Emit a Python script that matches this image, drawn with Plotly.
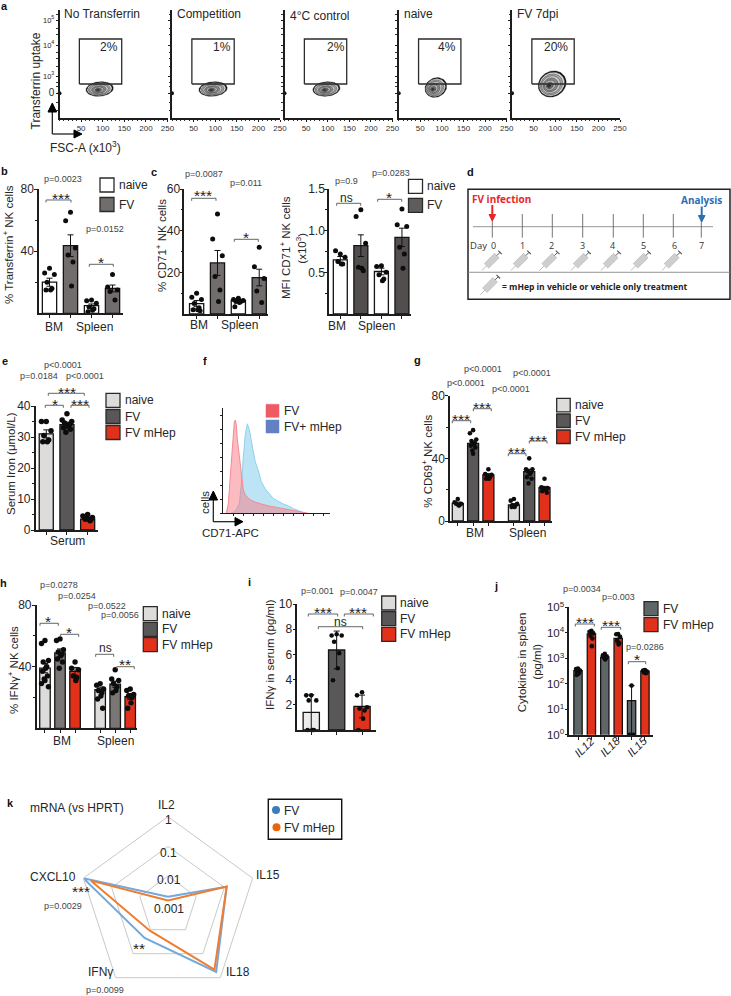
import numpy as np
import plotly.graph_objects as go

W, H = 731, 996
FONT = "Liberation Sans"
WHITE, GREY_B, GREY_D, LIGHT, DARK, RED = "#ffffff", "#716d6c", "#524e4e", "#dddcdb", "#5a5758", "#e2311a"

# ---------- data ----------
flow_titles = ["No Transferrin", "Competition", "4\u00b0C control", "naive", "FV 7dpi"]
flow_pct = ["2%", "1%", "2%", "4%", "20%"]
flow_ticks_x = [50, 100, 150, 200, 250]
flow_ticks_y = [24.7, 42, 73, 98]
flow_ticklabels_y = ['<span style="font-size:10px">0</span>', "10<sup>3</sup>", "10<sup>4</sup>", "10<sup>5</sup>"]
gate_x = [46, 144]
gate_y = [34, 79]
blob_cx = [93, 95, 97, 86, 93]
blob_cy = [29, 29, 29, 30.5, 34]
blob_rx = [13.7, 14.2, 13.6, 11.2, 14.5]
blob_ry = [7.2, 7.2, 7.2, 9.5, 12.5]
blob_tilt = [5, 5, 5, 28, 32]

b_vals = [20, 43.5, 5, 16]
b_err = [2.6, 7, 1, 2.2]
b_dots = [[29, 26, 25, 20, 16, 15, 15], [65, 59.5, 42, 37.5, 33, 17.6], [8.6, 8, 6.5, 4, 3, 2, 1], [25, 17, 15, 14, 8.6]]
c1_vals = [5, 24.5, 6.5, 17.5]
c1_err = [1.5, 6, 0.6, 4]
c1_dots = [[10, 8, 7, 5, 3, 2, 2, 1.5], [48, 36, 28, 18, 11.5, 6], [7.5, 7, 6.5, 6, 6, 5.5, 3.5], [32, 22.7, 17, 11, 5.5]]
c2_vals = [0.65, 0.82, 0.51, 0.92]
c2_err = [0.04, 0.13, 0.04, 0.11]
c2_dots = [[0.72, 0.76, 0.68, 0.63, 0.6, 0.6], [1.25, 1.17, 0.85, 0.56, 0.52, 0.55], [0.58, 0.57, 0.5, 0.47, 0.42, 0.4], [1.26, 1.07, 1.05, 0.8, 0.72, 0.55]]
e_vals = [31, 34, 3.5]
e_err = [1.3, 0.8, 0.3]
e_dots = [[35, 35, 32, 30.5, 29, 28.5, 28.5], [37.5, 35.5, 35, 34.5, 34, 33.5, 33, 32.5, 31.5], [5, 4.5, 4, 3.5, 3, 3.5, 4, 3.5]]
f_fv_x = [3, 5, 7, 9, 10, 11, 12, 13, 14, 16, 18, 20, 22, 25, 28, 32, 38, 45, 55, 65, 75, 85]
f_fv_y = [0, 10, 40, 75, 90, 98, 100, 95, 80, 60, 40, 25, 20, 16, 14, 12, 10, 8, 6, 4, 2, 0]
f_hep_x = [8, 12, 16, 18, 20, 22, 24, 26, 28, 30, 32, 35, 38, 42, 46, 50, 55, 60, 65, 70, 75, 82]
f_hep_y = [0, 2, 10, 30, 60, 85, 96, 90, 78, 64, 55, 46, 34, 26, 21, 16, 13, 10, 8, 5, 3, 0]
g_vals = [11.3, 49.6, 29.4, 10.2, 31.5, 21.3]
g_err = [0.8, 1.5, 0.8, 0.8, 1.5, 0.8]
g_dots = [[14, 12, 11, 11, 10, 10], [58, 56, 52, 51, 50, 49, 48, 47, 45, 43], [33, 30, 29.5, 29, 28, 27, 27], [14, 13, 11, 10, 10, 9, 9], [40, 33, 33, 32, 31, 30, 28, 27, 24], [27, 21.5, 21, 21, 20, 20, 19, 18]]
h_vals = [39, 49, 37, 25, 28.6, 20.6]
h_err = [3, 2.5, 2.5, 1.8, 2, 2]
h_dots = [[57, 55, 44, 43, 40, 39, 37, 34, 32, 31, 29, 27], [58, 57, 51, 49.5, 48, 47, 45, 43, 39], [43, 39, 38, 34, 33, 31], [29, 28, 25.5, 24.5, 23, 21, 19, 13], [38, 32, 31, 29, 27, 24.5, 23], [25.5, 24.5, 22, 21, 20, 16.5, 13]]
i_vals = [1.4, 6.35, 1.87]
i_err = [1.4, 1.5, 0.9]
i_dots = [[2.75, 2.75, 2.35, 2.35, 0, 0, 0], [7.6, 7.5, 7.5, 7.0, 6.1, 4.9, 3.95], [3, 2.75, 1.8, 1.7, 1.55, 0.9, 0]]
j_vals = [330, 9000, 1100, 6000, 22, 316]
j_err = [40, 2500, 150, 2000, 63, 30]
j_dots = [[400, 380, 330, 300, 280, 250, 220], [12000, 11000, 9500, 8000, 6000, 3000], [1500, 1300, 1200, 1100, 1000, 900], [9000, 8800, 7000, 5000, 4000, 3500], [85, 1, 1], [350, 330, 300, 280, 260]]
k_axes = ["IL2", "IL15", "IL18", "IFN\u03b3", "CXCL10"]
k_fv = [0.002, 0.12, 0.58, 0.022, 1.0]
k_hep = [0.0015, 0.12, 0.46, 0.011, 0.54]
days = ["0", "1", "2", "3", "4", "5", "6", "7"]
day_x = [492.3, 522.3, 552.3, 582.7, 613.3, 643.3, 673.3, 701.3]
day_lab_x = [493.3, 522.3, 551.7, 582.7, 612, 643, 674.3, 701.3]
syr_x = [491.7, 520.7, 549.3, 580.7, 610.7, 640.7, 671.7]

# ---------- helpers ----------
PX = lambda x: x / W
PY = lambda y: 1 - y / H
fig = go.Figure()
layout = dict(width=W, height=H, margin=dict(l=0, r=0, t=0, b=0, autoexpand=False), showlegend=False,
              paper_bgcolor="white", plot_bgcolor="white", font=dict(family=FONT, color="#222"))
shapes, annots = [], []
count = [0]

def T(x, y, s, size=12, color="#262626", anchor="center", angle=0, bold=False, font=FONT, italic=False):
    if bold:
        s = f"<b>{s}</b>"
    if italic:
        s = f"<i>{s}</i>"
    annots.append(dict(x=PX(x), y=PY(y), xref="paper", yref="paper", text=s, showarrow=False, xanchor=anchor,
                       yanchor="middle", textangle=angle, borderpad=0, font=dict(size=size, color=color, family=font)))

def L(pts, color="#333", w=1.0, close=False, fill=None):
    d = "M" + " L".join(f"{PX(x):.5f},{PY(y):.5f}" for x, y in pts) + (" Z" if close else "")
    s = dict(type="path", path=d, xref="paper", yref="paper", line=dict(color=color, width=w))
    if fill:
        s["fillcolor"] = fill
    shapes.append(s)

def STAR(x, y, n=3):
    T(x, y + 3.3, "*" * n, size=15.5, color="#222")

def BR(x0, x1, y, tip=2.5):
    L([(x0, y + tip), (x0, y), (x1, y), (x1, y + tip)], color="#555", w=0.9)

def P(x, y, s):
    T(x, y, s, size=9, color="#444")

def LEG(x, ys, labels, colors, size=12, box=14):
    for y, lab, c in zip(ys, labels, colors):
        L([(x, y), (x + box, y), (x + box, y + box), (x, y + box)], color="#2a2a2a", w=1.3, close=True, fill=c)
        T(x + box + 3.5, y + box / 2, lab, size=size, anchor="left")

def axes(l, r, t, b, xr, yr, xticks=None, yticks=None, ylabels=None, ytype="linear", minor=None, lw=1.5, tick=3, tfont=12, standoff=-2, showy=True):
    count[0] += 1
    n = count[0]
    ax = dict(domain=[PX(l), PX(r)], range=xr, anchor=f"y{n}", showgrid=False, zeroline=False, showline=True,
              linecolor="#1d1d1d", linewidth=lw, ticks="outside" if xticks else "", tickvals=xticks or [], ticklen=tick,
              tickwidth=1, tickcolor="#1d1d1d", showticklabels=False, fixedrange=True)
    ay = dict(domain=[PY(b), PY(t)], range=yr, anchor=f"x{n}", showgrid=False, zeroline=False, showline=True, type=ytype,
              linecolor="#1d1d1d", linewidth=lw, ticks="outside", tickvals=yticks, ticklen=tick, tickwidth=1,
              tickcolor="#1d1d1d", tickfont=dict(size=tfont, color="#262626"), fixedrange=True, showticklabels=showy)
    if showy:
        ay["ticktext"] = ylabels or [str(v) for v in (yticks or [])]
        ay["ticklabelstandoff"] = standoff
    if minor:
        ay["minor"] = dict(tickvals=minor, ticklen=2, ticks="outside", tickcolor="#1d1d1d", tickwidth=1)
    layout[f"xaxis{n}"] = ax
    layout[f"yaxis{n}"] = ay
    return f"x{n}", f"y{n}"

def jitter(vals, w):
    pat = [0, -0.55, 0.55, -0.28, 0.28, 0.12, -0.4, 0.4, -0.12]
    return [pat[i % len(pat)] * w for i in range(len(vals))]

def bars(xa, ya, pos, vals, err, dots, colors, bw=0.68, ds=5, jw=0.42, elw=1.0):
    fig.add_trace(go.Bar(x=pos, y=vals, width=bw, xaxis=xa, yaxis=ya, marker=dict(color=colors, line=dict(color="#141414", width=1.3)),
                         error_y=dict(type="data", array=err, color="#111", thickness=elw, width=3)))
    for p, d in zip(pos, dots):
        xs = [p + j for j in jitter(d, jw)]
        fig.add_trace(go.Scatter(x=xs, y=d, mode="markers", xaxis=xa, yaxis=ya, cliponaxis=False,
                                 marker=dict(color="#0c0c0c", size=ds, line=dict(width=0))))

# ---------- panel letters ----------
for s, x, y in [("a", 4, 6), ("b", 4, 171), ("c", 154, 172), ("d", 470, 172), ("e", 5, 361), ("f", 205, 361), ("g", 417, 360),
                ("h", 3, 583), ("i", 249, 582), ("j", 496, 586), ("k", 10, 803)]:
    T(x, y, s, size=11, bold=True, color="#111")

# ---------- a ----------
flow_left = [59.5, 172, 284.5, 398.7, 512]
sx = 108 / 250
for i, l in enumerate(flow_left):
    xa, ya = axes(l, l + 108, 10, 118, [0, 250], [0, 108], xticks=flow_ticks_x, yticks=flow_ticks_y,
                  ylabels=flow_ticklabels_y if i == 0 else None, lw=1.5, tick=2, tfont=7.5, standoff=0, showy=(i == 0))
    layout[f"yaxis{i+1}"]["minor"] = dict(tickvals=[8, 16, 32, 36, 52, 60, 66, 84, 90, 104], ticklen=1.5, ticks="outside", tickcolor="#333")
    layout[f"xaxis{i+1}"]["minor"] = dict(dtick=10, ticklen=1, ticks="outside", tickcolor="#333")
    layout[f"xaxis{i+1}"].update(showticklabels=True, ticktext=[str(v) for v in flow_ticks_x], tickfont=dict(size=8, color="#333"))
    t = np.linspace(0, 2 * np.pi, 60)
    th = np.radians(blob_tilt[i])
    layers = [(1, "#0a0a0a"), (0.92, "#d6d6d6"), (0.8, "#a8a8a8"), (0.68, "#c8c8c8"), (0.54, "#8a8a8a"), (0.4, "#b5b5b5"), (0.26, "#6e6e6e"), (0.13, "#333333")]
    shift = 3.5 if i >= 3 else 2
    for s, col in layers:
        ex = blob_rx[i] * s * np.cos(t)
        ey = blob_ry[i] * s * np.sin(t)
        px = ex * np.cos(th) - ey * np.sin(th) - (1 - s) * shift
        py = ex * np.sin(th) + ey * np.cos(th) - (1 - s) * shift * 0.6
        fig.add_trace(go.Scatter(x=blob_cx[i] + px / sx, y=blob_cy[i] + py, mode="lines", fill="toself", fillcolor=col,
                                 line=dict(color="#222", width=0.4), xaxis=xa, yaxis=ya))
    fig.add_trace(go.Scatter(x=[gate_x[0], gate_x[1], gate_x[1], gate_x[0], gate_x[0]], y=[gate_y[0], gate_y[0], gate_y[1], gate_y[1], gate_y[0]],
                             mode="lines", line=dict(color="#2b2b2b", width=1.3), xaxis=xa, yaxis=ya))
    fig.add_trace(go.Scatter(x=[0], y=[flow_ticks_y[0]], mode="markers", marker=dict(color="#111", size=4), xaxis=xa, yaxis=ya, cliponaxis=False))
    T(l + (3.8 if i != 2 else 4.8), 14 if i != 2 else 16, flow_titles[i], size=12, anchor="left")
    T([109, 221.7, 335.7, 446.7, 555.7][i], 47, flow_pct[i], size=12)
T(35, 81.5, "Transferrin uptake", size=12, angle=-90)
T(85.7, 146.5, "FSC-A (x10<sup>3</sup>)", size=12)
L([(52.3, 134), (52.3, 110)], color="#111", w=1.2)
L([(52.3, 134), (76, 134)], color="#111", w=1.2)
L([(52.3, 103), (48, 112), (56.6, 112)], color="#000", close=True, fill="#000")
L([(82, 134), (74, 130), (74, 138)], color="#000", close=True, fill="#000")

# ---------- b ----------
xa, ya = axes(39, 123, 189, 313.3, [-0.5, 3.5], [0, 80], [0, 1, 2, 3], [40, 80], minor=[20, 60])
bars(xa, ya, [0, 1, 2, 3], b_vals, b_err, b_dots, [WHITE, GREY_B, WHITE, GREY_B])
T(8, 245, "% Transferrin<sup>+</sup> NK cells", size=11.5, angle=-90)
T(54.3, 327, "BM"); T(94.7, 327, "Spleen")
P(62.7, 179, "p=0.0023"); BR(46, 71, 200); STAR(61, 195)
P(105, 229.3, "p=0.0152"); BR(89.3, 113.3, 264.3); STAR(101, 259.3, 1)
LEG(100, [178, 197.5], ["naive", "FV"], [WHITE, GREY_B])

# ---------- c left ----------
xa, ya = axes(184.3, 268, 189, 314, [-0.59, 3.42], [0, 60], [0, 1, 2, 3], [20, 40, 60], minor=[10, 30, 50], standoff=-3)
bars(xa, ya, [0, 1, 2, 3], c1_vals, c1_err, c1_dots, [WHITE, GREY_B, WHITE, GREY_B])
T(161, 246, "% CD71<sup>+</sup> NK cells", size=11.5, angle=-90)
T(199.3, 325, "BM"); T(239.7, 325, "Spleen")
P(204.3, 174, "p=0.0087"); BR(191.7, 216, 198.3); STAR(203.3, 192.3)
P(246, 183, "p=0.011"); BR(234.3, 258.3, 239.3); STAR(246, 234, 1)

# ---------- c right ----------
xa, ya = axes(329, 411, 189, 314, [-0.55, 3.44], [0, 1.5], [0, 1, 2, 3], [0.5, 1.0, 1.5], ylabels=["0.5", "1.0", "1.5"], minor=[0.25, 0.75, 1.25], standoff=-3)
bars(xa, ya, [0, 1, 2, 3], c2_vals, c2_err, c2_dots, [WHITE, GREY_D, WHITE, GREY_D])
T(285, 248, "MFI CD71<sup>+</sup> NK cells", size=11.5, angle=-90)
T(300.7, 248, "(x10<sup>3</sup>)", size=11.5, angle=-90)
T(336.7, 325.7, "BM"); T(376.7, 325.7, "Spleen")
P(346.7, 181, "p=0.9"); T(346.7, 197.5, "ns", size=12); BR(336.7, 360.7, 203.3)
P(391, 173.3, "p=0.0283"); BR(377.7, 401.7, 199.3); STAR(389, 194.3, 1)
LEG(408.5, [179.3, 198.3], ["naive", "FV"], [WHITE, "#5f5c5c"])

# ---------- d ----------
L([(468, 189.3), (730, 189.3), (730, 299.3), (468, 299.3)], color="#222", w=1.5, close=True)
L([(468, 272.3), (730, 272.3)], color="#888", w=0.9)
L([(473, 226.7), (713, 226.7)], color="#aaa", w=1.2)
for x in day_x:
    L([(x, 214), (x, 237.7)], color="#666", w=0.9)
for x, d in zip(day_lab_x, days):
    T(x, 245.7, d, size=9, font="Open Sans", color="#333")
T(479, 245.7, "Day", size=9.5, font="Open Sans", color="#333")
T(501.7, 199, "FV infection", size=10, bold=True, color="#e8262a", font="Open Sans")
T(701.7, 200, "Analysis", size=10, bold=True, color="#2f6db5", font="Open Sans")
L([(492.3, 205), (492.3, 216)], color="#e8262a", w=2)
L([(492.3, 221), (489, 214.5), (495.6, 214.5)], color="#e8262a", close=True, fill="#e8262a")
L([(701.7, 206.5), (701.7, 217)], color="#2f6db5", w=2)
L([(701.7, 222), (698.4, 215.5), (705, 215.5)], color="#2f6db5", close=True, fill="#2f6db5")

def syringe(cx, cy):
    u = np.array([0.707, -0.707]); v = np.array([0.707, 0.707]); c = np.array([cx, cy])
    a = c - 7.3 * u; b = c + 7.3 * u
    L([tuple(a - 6.5 * u), tuple(a)], color="#aaa", w=0.8)
    L([tuple(a - 3.2 * v), tuple(b - 3.2 * v), tuple(b + 3.2 * v), tuple(a + 3.2 * v)], color="#b5b5b5", w=0.6, close=True, fill="#cfcece")
    L([tuple(b), tuple(b + 5 * u)], color="#555", w=1)
    L([tuple(b + 4.5 * u - 2.6 * v), tuple(b + 4.5 * u + 2.6 * v)], color="#555", w=1.1)

for x in syr_x:
    syringe(x, 260.7)
syringe(490, 285)
T(500.7, 286.7, "= mHep in vehicle or vehicle only treatment", size=8.5, bold=True, anchor="left", font="Open Sans", color="#222")

# ---------- e ----------
xa, ya = axes(35.7, 98, 406, 530, [-0.51, 2.5], [0, 40], [0, 1, 2], [0, 10, 20, 30, 40], minor=[5, 15, 25, 35])
bars(xa, ya, [0, 1, 2], e_vals, e_err, e_dots, [LIGHT, DARK, RED], ds=5.5)
T(11, 464, "Serum Iron (\u03bcmol/L)", size=11.5, angle=-90)
T(67, 541, "Serum")
P(62.7, 365, "p&lt;0.0001"); P(39, 375.7, "p=0.0184"); P(85, 375.7, "p&lt;0.0001")
BR(48.3, 84.3, 393.3); STAR(66.5, 389)
BR(45.3, 63.3, 405.3); STAR(54.5, 401, 1)
BR(71, 89, 405.3); STAR(80, 401)
LEG(106, [393.3, 409.5, 425.5], ["naive", "FV", "FV mHep"], [LIGHT, DARK, RED])

# ---------- f ----------
xa, ya = axes(223.3, 330, 408, 513.3, [0, 106.7], [0, 113], xticks=[10, 20, 30, 40, 50, 60, 70, 80, 90, 100], yticks=list(range(0, 113, 15)), lw=1, tick=2, showy=False)
fig.add_trace(go.Scatter(x=f_hep_x, y=f_hep_y, mode="lines", fill="tozeroy", fillcolor="rgba(135,205,235,0.55)", line=dict(color="#8ed0ec", width=1), xaxis=xa, yaxis=ya))
fig.add_trace(go.Scatter(x=f_fv_x, y=f_fv_y, mode="lines", fill="tozeroy", fillcolor="rgba(248,120,130,0.5)", line=dict(color="#f58a90", width=1), xaxis=xa, yaxis=ya))
LEG(266, [404.3, 420], ["FV", "FV+ mHep"], ["#ef5b65", "#6480c4"], box=13)
shapes[-1]["line"]["color"] = "#6480c4"; shapes[-2]["line"]["color"] = "#ef5b65"
for s_ in shapes[-2:]:
    s_["line"]["width"] = 0.5
T(205, 503, "cells", size=11.5, angle=-90)
T(230, 532.7, "CD71-APC", size=11.5)
L([(213.3, 521.7), (213.3, 500)], color="#111", w=1.2)
L([(213.3, 521.7), (236, 521.7)], color="#111", w=1.2)
L([(213.3, 491), (209, 500), (217.6, 500)], color="#000", close=True, fill="#000")
L([(243, 521.7), (235, 517.5), (235, 526)], color="#000", close=True, fill="#000")

# ---------- g ----------
g_pos = [0, 1, 2, 3.67, 4.67, 5.67]
xa, ya = axes(450, 552, 395.7, 521, [-0.51, 6.16], [0, 80], g_pos, [0, 40, 80], minor=[20, 60], tfont=12)
bars(xa, ya, g_pos, g_vals, g_err, g_dots, [LIGHT, DARK, RED] * 2, bw=0.72, ds=4.6, jw=0.38)
T(426.7, 461, "% CD69<sup>+</sup> NK cells", size=11.5, angle=-90)
T(475, 532.7, "BM"); T(527.3, 532.7, "Spleen")
P(482.7, 369.3, "p&lt;0.0001"); P(466, 382.7, "p&lt;0.0001"); P(531.7, 373.3, "p&lt;0.0001"); P(511, 388.7, "p&lt;0.0001")
BR(452.3, 470.7, 420.7); STAR(461, 416)
BR(473.3, 491.3, 408.7); STAR(482.3, 404)
BR(508.3, 526, 453.7); STAR(516.7, 449)
BR(529.3, 547, 441); STAR(538.3, 437)
LEG(556.7, [398.3, 414, 430], ["naive", "FV", "FV mHep"], [LIGHT, DARK, RED], box=13.5)

# ---------- h ----------
h_pos = [0, 1, 2, 3.67, 4.67, 5.67]
xa, ya = axes(36.7, 136.7, 605, 728.3, [-0.55, 6.1], [0, 80], h_pos, [40, 80], minor=[20, 60])
bars(xa, ya, h_pos, h_vals, h_err, h_dots, [LIGHT, "#7a7675", RED] * 2, bw=0.7, ds=5.4, jw=0.42)
T(13, 670, "% IFN\u03b3<sup>+</sup> NK cells", size=11.5, angle=-90)
T(62, 740.5, "BM"); T(115, 740.5, "Spleen")
P(59.3, 585, "p=0.0278"); P(76.7, 595.7, "p=0.0254"); P(106.7, 605.7, "p=0.0522"); P(120, 614.7, "p=0.0056")
BR(40, 58.3, 623.3); STAR(48.3, 618, 1)
BR(60.7, 78.7, 634.3); STAR(68.7, 629, 1)
BR(95.7, 113.7, 654.3); T(105, 648, "ns", size=12)
BR(116.7, 134.3, 666.7); STAR(125, 661, 2)
LEG(143.3, [606.7, 622.3, 637.7], ["naive", "FV", "FV mHep"], [LIGHT, DARK, RED])

# ---------- i ----------
xa, ya = axes(297.3, 376, 604, 730, [-0.55, 2.55], [0, 10], [0, 1, 2], [2, 4, 6, 8, 10])
bars(xa, ya, [0, 1, 2], i_vals, i_err, i_dots, ["#ececec", DARK, RED], bw=0.64, ds=4.6, jw=0.36)
T(270, 655, "IFN\u03b3 in serum (pg/ml)", size=11.5, angle=-90)
P(317.3, 591, "p=0.001"); P(359, 591.7, "p=0.0047")
BR(308.3, 337.7, 614); STAR(322.7, 609)
BR(344.3, 373.3, 614); STAR(358.3, 609)
BR(318.3, 362.7, 626.7); T(340.7, 621.5, "ns", size=12)
LEG(381.7, [596, 611.7, 627.3], ["naive", "FV", "FV mHep"], [LIGHT, DARK, RED])

# ---------- j ----------
j_pos = [0, 1, 2, 3, 4, 5]
xa, ya = axes(569.3, 653, 607.3, 734.8, [-0.65, 5.6], [0, 5], j_pos, [1, 10, 100, 1000, 10000, 100000],
              ylabels=["10<sup>0</sup>", "10<sup>1</sup>", "10<sup>2</sup>", "10<sup>3</sup>", "10<sup>4</sup>", "10<sup>5</sup>"], ytype="log", tfont=11.5)
bars(xa, ya, j_pos, j_vals, j_err, j_dots, ["#5f6668", RED] * 3, bw=0.62, ds=4.6, jw=0.26)
T(522.3, 662, "Cytokines in spleen", size=11.5, angle=-90)
T(536.7, 662, "(pg/ml)", size=11.5, angle=-90)
for lab, x in zip(["IL12", "IL18", "IL15"], [584.5, 610, 637]):
    T(x, 747, lab, size=11.5, angle=-45, italic=True)
P(582.3, 589, "p=0.0034"); P(618.3, 597.3, "p=0.003"); P(645, 646.7, "p=0.0286")
BR(575.3, 594.3, 624); STAR(584.7, 619)
BR(601.3, 620.7, 627.3); STAR(611, 622)
BR(628.3, 645.7, 661.7); STAR(636.7, 656, 1)
LEG(644, [601.7, 617.7], ["FV", "FV mHep"], ["#5f6668", RED])

# ---------- k ----------
cxk, cyk, Rk = 168, 905.7, 89
layout["polar"] = dict(
    domain=dict(x=[PX(cxk - Rk), PX(cxk + Rk)], y=[PY(cyk + Rk), PY(cyk - Rk)]),
    gridshape="linear", bgcolor="rgba(0,0,0,0)",
    radialaxis=dict(type="log", range=[-3, 0], tickvals=[0.01, 0.1, 1], showticklabels=False, ticks="", showline=False, gridcolor="#c9c9c9", gridwidth=1),
    angularaxis=dict(type="category", categoryarray=k_axes, rotation=90, direction="clockwise", showticklabels=False, ticks="", showgrid=False, linecolor="#c9c9c9", linewidth=1),
)
theta_closed = k_axes + k_axes[:1]
fig.add_trace(go.Scatterpolar(r=k_fv + k_fv[:1], theta=theta_closed, mode="lines+markers", line=dict(color="#74a9dc", width=2), marker=dict(color="#6ea3d8", size=7), cliponaxis=False))
fig.add_trace(go.Scatterpolar(r=k_hep + k_hep[:1], theta=theta_closed, mode="lines+markers", line=dict(color="#ee7d31", width=2), marker=dict(color="#ea6a1b", size=7), cliponaxis=False))
for s, x, y in [("IL2", 166, 805.3), ("1", 168.3, 820), ("0.1", 168, 853.3), ("0.01", 169, 880), ("0.001", 169.3, 909.3), ("CXCL10", 53.3, 876.7),
                ("IL15", 268.3, 875), ("IL18", 238.3, 971.7), ("IFN\u03b3", 100, 971.7), ("mRNA (vs HPRT)", 76.7, 807.7)]:
    T(x, y, s, size=12)
STAR(81, 888); P(62.7, 905.7, "p=0.0029"); STAR(139.3, 945, 2); P(105, 990, "p=0.0099")
L([(268.3, 799.3), (341.7, 799.3), (341.7, 839.3), (268.3, 839.3)], color="#111", w=1.4, close=True)
shapes.append(dict(type="circle", xref="paper", yref="paper", x0=PX(272), x1=PX(280), y0=PY(814), y1=PY(806), fillcolor="#3a7cc1", line=dict(width=0)))
shapes.append(dict(type="circle", xref="paper", yref="paper", x0=PX(272.5), x1=PX(280.5), y0=PY(831.3), y1=PY(823.3), fillcolor="#e8650a", line=dict(width=0)))
T(282.7, 810.5, "FV", anchor="left"); T(282.7, 827.5, "FV mHep", anchor="left")

layout["shapes"] = shapes
layout["annotations"] = annots
fig.update_layout(**layout)
fig.write_html("out.html", post_script="document.body.style.margin='0';", config=dict(displayModeBar=False))
